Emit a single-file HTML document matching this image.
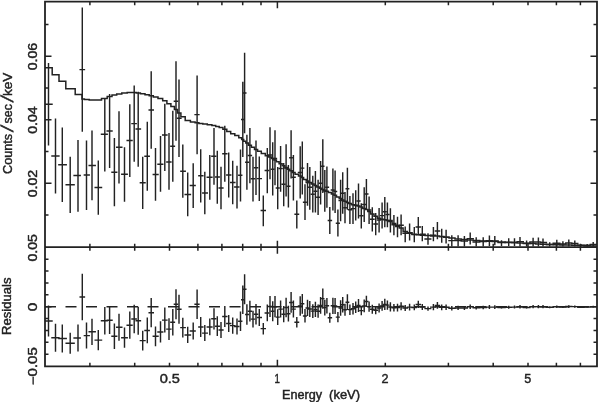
<!DOCTYPE html>
<html><head><meta charset="utf-8"><title>Spectrum</title>
<style>html,body{margin:0;padding:0;background:#fff;}body{width:600px;height:402px;overflow:hidden;}svg{display:block;}</style>
</head><body><svg width="600" height="402" viewBox="0 0 600 402"><defs><clipPath id="cu"><rect x="45.0" y="1.7" width="552.0" height="245.5"/></clipPath><clipPath id="cl"><rect x="45.0" y="247.2" width="552.0" height="119.1"/></clipPath></defs><g clip-path="url(#cu)"><path d="M45.0 67.8H52.2V74.8H59.0V81.2H65.8V88.8H75.2V94.5H82.0V99.0H84.4V99.4H89.2V100.1H95.2V99.9H101.5V98.4H107.2V96.5H112.0V95.0H116.7V94.0H121.8V93.1H127.2V92.6H132.0V92.5H136.2V92.9H140.4V93.7H145.0V94.7H149.2V95.7H153.3V96.9H158.0V98.5H162.7V100.8H166.9V103.8H170.9V106.6H174.4V109.4H177.5V112.9H180.9V116.8H185.2V120.6H190.4V122.1H195.1V122.8H198.9V123.4H202.8V124.0H207.3V124.7H211.9V125.6H215.7V126.4H219.2V127.5H222.9V129.2H226.8V131.6H230.7V133.7H234.8V135.6H238.8V137.7H241.7V139.6H243.7V141.3H245.8V143.1H248.4V145.2H251.4V147.3H254.5V149.5H257.6V151.3H261.3V153.5H265.3V155.7H268.6V157.1H271.4V158.6H273.9V160.1H276.4V161.8H279.1V163.8H282.1V165.8H284.9V167.5H287.2V169.2H289.8V170.8H292.2V172.5H295.1V174.3H298.5V175.9H301.2V177.4H303.6V179.4H306.2V181.0H308.6V182.6H311.3V184.1H314.1V185.6H316.8V187.0H319.4V188.3H321.7V189.4H323.8V190.3H325.9V191.3H328.4V192.6H331.4V194.0H334.0V195.2H336.5V197.0H339.2V198.6H341.6V200.0H343.9V201.3H346.2V202.5H348.6V203.6H351.4V204.7H354.4V205.5H357.1V206.1H359.9V207.0H362.8V208.4H365.3V209.6H367.8V211.6H370.7V214.0H374.0V216.3H377.4V218.3H380.6V219.3H383.5V219.7H386.1V220.4H388.9V221.6H392.1V223.5H395.7V225.6H399.3V228.1H403.1V231.6H407.4V233.2H412.0V234.2H416.3V234.8H420.3V235.2H425.1V235.6H430.7V235.9H435.4V236.1H439.5V236.5H443.9V237.2H449.0V238.0H455.0V238.9H461.2V239.4H467.3V240.0H473.2V240.5H479.7V241.0H486.3V241.3H492.1V241.6H498.1V242.1H505.1V242.5H511.6V242.8H517.2V243.0H523.3V243.3H529.9V243.6H535.8V243.9H540.7V244.2H546.4V244.5H553.2V244.7H559.8V244.9H565.8V245.1H571.8V245.3H577.8V245.6H584.0V245.9H590.2V246.1H596.2" fill="none" stroke="#222" stroke-width="1.50" stroke-linejoin="miter"/><path d="M48.5 63.0V145.5M55.5 118.5V193.5M62.3 127.5V202.0M70.2 156.8V213.0M78.0 140.0V211.7M82.3 7.5V131.8M86.5 140.5V210.0M92.0 130.5V200.3M98.3 160.5V214.7M104.8 98.5V171.5M109.6 94.0V168.0M114.4 138.0V206.2M119.0 111.3V183.5M124.5 147.2V201.7M129.8 104.3V177.0M134.2 85.5V161.7M138.2 91.8V166.7M142.7 156.7V209.0M147.3 121.8V190.8M151.2 71.2V148.7M155.5 148.0V200.8M160.5 136.0V191.8M164.8 103.8V170.9M169.0 133.0V189.8M172.8 110.8V181.7M176.0 61.3V140.8M179.0 79.5V157.0M182.8 144.6V197.7M187.7 172.5V216.3M193.2 163.3V208.0M197.1 75.6V154.2M200.7 149.2V202.5M204.8 171.7V214.2M209.8 155.0V199.7M214.0 128.0V184.7M217.3 150.7V203.7M221.0 166.7V209.2M224.8 125.8V181.7M228.7 152.5V197.5M232.7 160.8V204.2M237.0 165.8V208.5M240.5 149.5V201.4M242.8 81.7V157.1M244.6 52.8V133.3M246.9 134.7V189.7M249.9 128.1V183.3M253.0 156.8V201.4M256.0 140.4V195.0M259.3 156.4V201.1M263.3 195.5V226.3M267.3 148.0V193.3M270.0 127.2V179.2M272.7 142.3V195.5M275.0 130.2V185.3M277.7 167.1V209.2M280.6 146.0V191.8M283.7 163.1V206.2M286.1 144.3V196.4M288.4 165.1V207.5M291.1 130.2V178.6M293.4 155.0V200.4M296.8 200.4V228.6M300.2 146.3V198.4M302.3 141.6V194.4M305.0 184.3V220.0M307.5 163.0V205.8M309.8 167.1V209.8M312.8 175.8V212.5M315.4 171.1V212.5M318.1 179.8V215.1M320.6 161.0V204.6M322.8 139.3V193.1M324.8 170.0V211.8M326.9 166.4V207.8M329.8 207.1V233.9M332.9 168.4V210.4M335.1 170.4V213.1M337.9 209.4V236.6M340.6 179.8V221.2M342.7 172.2V213.8M345.0 191.9V223.2M347.4 167.8V209.8M349.9 195.9V224.1M353.0 193.3V223.9M355.7 190.2V220.5M358.5 183.5V218.5M361.3 203.3V228.6M364.2 187.2V221.9M366.4 178.9V209.1M369.1 196.6V223.9M372.3 207.2V231.4M375.7 213.0V235.3M379.1 208.1V232.4M382.1 202.4V228.6M384.8 197.0V227.2M387.4 202.4V227.2M390.4 208.2V232.6M393.9 215.1V235.3M397.5 216.7V237.3M401.1 214.5V235.3M405.2 226.5V242.2M409.6 223.5V240.4M414.3 227.0V242.2M418.3 217.1V235.3M422.3 226.1V241.3M428.0 233.3V244.7M433.4 227.0V241.3M437.4 222.1V239.3M441.7 228.8V242.7M446.1 229.8V243.5M451.8 235.2V246.6M458.1 235.2V246.6M464.4 236.1V246.6M470.2 232.5V244.6M476.2 237.2V246.6M483.2 237.2V246.6M489.4 235.6V245.9M494.8 236.1V245.3M501.5 240.2V246.0M508.7 238.3V246.0M514.5 238.3V246.0M520.0 237.0V246.5M526.6 240.5V246.5M533.1 237.7V246.5M538.4 237.4V246.5M543.0 238.4V246.5M549.7 242.2V246.5M556.8 239.8V246.5M562.9 241.2V246.5M568.8 239.4V246.5M574.8 240.5V246.5M580.9 244.0V246.5M587.2 244.0V246.5M593.2 242.0V246.5" fill="none" stroke="#222" stroke-width="1.45"/><path d="M45.0 104.2H52.0M52.0 156.0H58.9M58.9 164.8H66.2M66.2 184.8H74.1M74.1 175.5H80.2M80.2 69.6H84.4M84.4 175.0H89.2M89.2 165.5H95.2M95.2 187.5H101.5M101.5 134.2H107.2M107.2 131.0H112.0M112.0 172.2H116.7M116.7 147.2H121.8M121.8 174.2H127.2M127.2 140.5H132.0M132.0 123.6H136.2M136.2 128.9H140.4M140.4 182.8H145.0M145.0 156.3H149.2M149.2 110.0H153.3M153.3 174.4H158.0M158.0 164.2H162.7M162.7 135.0H166.9M166.9 162.0H170.9M170.9 146.3H174.4M174.4 101.2H177.5M177.5 118.2H180.9M180.9 171.2H185.2M185.2 194.4H190.4M190.4 185.5H195.1M195.1 114.6H198.9M198.9 175.8H202.8M202.8 193.0H207.3M207.3 177.2H211.9M211.9 156.3H215.7M215.7 177.0H219.2M219.2 188.0H222.9M222.9 153.7H226.8M226.8 175.0H230.7M230.7 182.5H234.8M234.8 187.0H238.8M238.8 175.2H241.7M241.7 119.5H243.7M243.7 93.0H245.8M245.8 162.2H248.4M248.4 155.5H251.4M251.4 178.8H254.5M254.5 167.8H257.6M257.6 178.6H261.3M261.3 210.5H265.3M265.3 170.5H268.6M268.6 155.0H271.4M271.4 169.2H273.9M273.9 158.4H276.4M276.4 188.0H279.1M279.1 168.5H282.1M282.1 184.2H284.9M284.9 168.1H287.2M287.2 186.3H289.8M289.8 157.8H292.2M292.2 177.2H295.1M295.1 214.3H298.5M298.5 172.5H301.2M301.2 168.1H303.6M303.6 202.3H306.2M306.2 182.5H308.6M308.6 187.2H311.3M311.3 194.2H314.1M314.1 191.2H316.8M316.8 197.3H319.4M319.4 183.2H321.7M321.7 166.2H323.8M323.8 191.0H325.9M325.9 187.3H328.4M328.4 220.5H331.4M331.4 190.0H334.0M334.0 191.5H336.5M336.5 223.2H339.2M339.2 200.5H341.6M341.6 193.2H343.9M343.9 207.8H346.2M346.2 188.8H348.6M348.6 209.8H351.4M351.4 208.6H354.4M354.4 205.3H357.1M357.1 201.0H359.9M359.9 215.8H362.8M362.8 204.5H365.3M365.3 194.0H367.8M367.8 210.0H370.7M370.7 219.2H374.0M374.0 223.9H377.4M377.4 220.0H380.6M380.6 215.6H383.5M383.5 211.8H386.1M386.1 214.5H388.9M388.9 220.5H392.1M392.1 224.8H395.7M395.7 226.5H399.3M399.3 225.2H403.1M403.1 233.3H407.4M407.4 232.6H412.0M412.0 234.6H416.3M416.3 227.0H420.3M420.3 234.2H425.1M425.1 239.0H430.7M430.7 235.3H435.4M435.4 231.0H439.5M439.5 236.6H443.9M443.9 237.3H449.0M449.0 240.6H455.0M455.0 240.6H461.2M461.2 241.0H467.3M467.3 238.6H473.2M473.2 241.9H479.7M479.7 241.5H486.3M486.3 240.6H492.1M492.1 241.0H498.1M498.1 242.6H505.1M505.1 242.3H511.6M511.6 242.3H517.2M517.2 241.6H523.3M523.3 243.5H529.9M529.9 242.0H535.8M535.8 242.0H540.7M540.7 242.5H546.4M546.4 244.5H553.2M553.2 243.3H559.8M559.8 244.0H565.8M565.8 243.0H571.8M571.8 243.5H577.8M577.8 245.3H584.0M584.0 245.3H590.2M590.2 244.5H596.2" fill="none" stroke="#222" stroke-width="1.45" stroke-linecap="square"/></g><g clip-path="url(#cl)"><line x1="45.0" y1="306.7" x2="597.0" y2="306.7" stroke="#222" stroke-width="1.50" stroke-dasharray="11 9.5"/><path d="M48.5 305.5V336.4M55.5 323.7V351.8M62.3 324.5V352.4M70.2 332.7V353.7M78.0 324.6V351.4M82.3 273.8V320.3M86.5 322.6V348.6M92.0 318.7V344.9M98.3 329.9V350.2M104.8 307.1V334.4M109.6 306.4V334.1M114.4 323.4V349.0M119.0 313.7V340.7M124.5 327.5V347.8M129.8 311.6V338.8M134.2 304.7V333.2M138.2 306.8V334.8M142.7 330.8V350.4M147.3 317.4V343.3M151.2 298.1V327.2M155.5 326.4V346.2M160.5 321.3V342.4M164.8 307.5V332.6M169.0 318.2V339.9M172.8 308.9V335.4M176.0 289.3V319.2M179.0 294.8V323.8M182.8 317.7V337.6M187.7 326.7V343.1M193.2 322.6V339.4M197.1 289.5V318.9M200.7 316.9V336.9M204.8 325.1V341.1M209.8 318.6V335.3M214.0 308.2V329.4M217.3 316.3V336.1M221.0 322.0V337.9M224.8 306.0V326.9M228.7 315.1V331.9M232.7 317.5V333.7M237.0 318.5V334.5M240.5 311.6V331.0M242.8 285.6V313.9M244.6 274.2V304.3M246.9 304.2V324.7M249.9 300.8V321.5M253.0 310.7V327.4M256.0 303.9V324.4M259.3 309.1V325.9M263.3 322.9V334.4M267.3 304.4V321.3M270.0 296.1V316.9M272.7 301.2V321.3M275.0 296.1V317.2M277.7 309.2V325.0M280.6 300.5V317.6M283.7 306.1V322.3M286.1 297.8V317.3M288.4 305.8V321.6M291.1 292.1V312.8M293.4 300.6V317.6M296.8 317.0V327.5M300.2 296.2V315.8M302.3 293.9V313.7M305.0 309.1V322.6M307.5 299.8V315.9M309.8 301.0V317.0M312.8 304.2V318.0M315.4 301.7V317.1M318.1 304.5V317.8M320.6 297.1V313.7M322.8 288.6V308.7M324.8 299.7V315.4M326.9 298.0V313.6M329.8 312.7V322.7M332.9 297.7V313.9M335.1 297.9V313.9M337.9 312.0V322.3M340.6 300.2V315.7M342.7 296.9V312.6M345.0 303.8V315.7M347.4 294.3V310.0M349.9 304.4V314.9M353.0 303.0V314.5M355.7 301.6V312.9M358.5 298.9V311.9M361.3 305.8V315.3M364.2 299.4V312.3M366.4 295.8V307.1M369.1 301.6V311.8M372.3 304.7V313.8M375.7 306.0V314.3M379.1 303.4V312.5M382.1 301.0V310.8M384.8 298.7V310.0M387.4 300.5V309.7M390.4 302.3V311.5M393.9 304.0V311.6M397.5 303.8V311.5M401.1 302.2V310.2M405.2 305.0V310.9M409.6 303.7V310.5M414.3 304.6V310.3M418.3 300.7V308.1M422.3 303.9V310.0M428.0 306.4V310.7M433.4 304.0V310.2M437.4 302.0V308.7M441.7 304.4V310.2M446.1 304.5V310.1M451.8 306.1V310.4M458.1 305.8V310.1M464.4 305.9V309.9M470.2 304.5V309.1M476.2 306.1V309.6M483.2 305.7V309.3M489.4 305.1V309.0M494.8 305.2V308.9M501.5 306.4V308.6M508.7 305.7V308.7M514.5 305.6V308.6M520.0 305.0V308.5M526.6 306.2V308.5M533.1 305.0V308.3M538.4 304.9V308.3M543.0 305.1V308.2M549.7 306.5V308.2M556.8 305.5V308.1M562.9 305.9V308.0M568.8 305.2V307.9M574.8 305.5V307.7M580.9 306.7V307.7M587.2 306.6V307.6M593.2 305.8V307.6" fill="none" stroke="#222" stroke-width="1.45"/><path d="M45.0 320.9H52.0M52.0 337.7H58.9M58.9 338.5H66.2M66.2 343.2H74.1M74.1 338.0H80.2M80.2 297.0H84.4M84.4 335.6H89.2M89.2 331.8H95.2M95.2 340.1H101.5M101.5 320.7H107.2M107.2 320.2H112.0M112.0 336.2H116.7M116.7 327.2H121.8M121.8 337.7H127.2M127.2 325.2H132.0M132.0 318.9H136.2M136.2 320.8H140.4M140.4 340.6H145.0M145.0 330.4H149.2M149.2 312.7H153.3M153.3 336.3H158.0M158.0 331.9H162.7M162.7 320.1H166.9M166.9 329.1H170.9M170.9 322.2H174.4M174.4 304.2H177.5M177.5 309.3H180.9M180.9 327.6H185.2M185.2 334.9H190.4M190.4 331.0H195.1M195.1 304.2H198.9M198.9 326.9H202.8M202.8 333.1H207.3M207.3 327.0H211.9M211.9 318.8H215.7M215.7 326.2H219.2M219.2 329.9H222.9M222.9 316.5H226.8M226.8 323.5H230.7M230.7 325.6H234.8M234.8 326.5H238.8M238.8 321.3H241.7M241.7 299.8H243.7M243.7 289.2H245.8M245.8 314.5H248.4M248.4 311.2H251.4M251.4 319.1H254.5M254.5 314.2H257.6M257.6 317.5H261.3M261.3 328.6H265.3M265.3 312.9H268.6M268.6 306.5H271.4M271.4 311.3H273.9M273.9 306.7H276.4M276.4 317.1H279.1M279.1 309.1H282.1M282.1 314.2H284.9M284.9 307.5H287.2M287.2 313.7H289.8M289.8 302.4H292.2M292.2 309.1H295.1M295.1 322.2H298.5M298.5 306.0H301.2M301.2 303.8H303.6M303.6 315.9H306.2M306.2 307.9H308.6M308.6 309.0H311.3M311.3 311.1H314.1M314.1 309.4H316.8M316.8 311.2H319.4M319.4 305.4H321.7M321.7 298.6H323.8M323.8 307.6H325.9M325.9 305.8H328.4M328.4 317.7H331.4M331.4 305.8H334.0M334.0 305.9H336.5M336.5 317.1H339.2M339.2 308.0H341.6M341.6 304.8H343.9M343.9 309.7H346.2M346.2 302.2H348.6M348.6 309.6H351.4M351.4 308.8H354.4M354.4 307.2H357.1M357.1 305.4H359.9M359.9 310.6H362.8M362.8 305.9H365.3M365.3 301.5H367.8M367.8 306.7H370.7M370.7 309.2H374.0M374.0 310.2H377.4M377.4 308.0H380.6M380.6 305.9H383.5M383.5 304.4H386.1M386.1 305.1H388.9M388.9 306.9H392.1M392.1 307.8H395.7M395.7 307.6H399.3M399.3 306.2H403.1M403.1 307.9H407.4M407.4 307.1H412.0M412.0 307.5H416.3M416.3 304.4H420.3M420.3 306.9H425.1M425.1 308.6H430.7M430.7 307.1H435.4M435.4 305.4H439.5M439.5 307.3H443.9M443.9 307.3H449.0M449.0 308.3H455.0M455.0 308.0H461.2M461.2 307.9H467.3M467.3 306.8H473.2M473.2 307.8H479.7M479.7 307.5H486.3M486.3 307.1H492.1M492.1 307.1H498.1M498.1 307.5H505.1M505.1 307.2H511.6M511.6 307.1H517.2M517.2 306.8H523.3M523.3 307.4H529.9M529.9 306.7H535.8M535.8 306.6H540.7M540.7 306.7H546.4M546.4 307.3H553.2M553.2 306.8H559.8M559.8 307.0H565.8M565.8 306.5H571.8M571.8 306.6H577.8M577.8 307.2H584.0M584.0 307.1H590.2M590.2 306.7H596.2" fill="none" stroke="#222" stroke-width="1.45" stroke-linecap="square"/></g><path d="M89.9 1.7v3.5M89.9 247.2v-3.5M89.9 247.2v3.5M89.9 366.3v-3.5M134.7 1.7v3.5M134.7 247.2v-3.5M134.7 247.2v3.5M134.7 366.3v-3.5M169.5 1.7v3.5M169.5 247.2v-3.5M169.5 247.2v3.5M169.5 366.3v-3.5M197.9 1.7v3.5M197.9 247.2v-3.5M197.9 247.2v3.5M197.9 366.3v-3.5M221.9 1.7v3.5M221.9 247.2v-3.5M221.9 247.2v3.5M221.9 366.3v-3.5M242.7 1.7v3.5M242.7 247.2v-3.5M242.7 247.2v3.5M242.7 366.3v-3.5M261.0 1.7v3.5M261.0 247.2v-3.5M261.0 247.2v3.5M261.0 366.3v-3.5M277.4 1.7v6.5M277.4 247.2v-6.5M277.4 247.2v6.5M277.4 366.3v-6.5M385.3 1.7v3.5M385.3 247.2v-3.5M385.3 247.2v3.5M385.3 366.3v-3.5M448.4 1.7v3.5M448.4 247.2v-3.5M448.4 247.2v3.5M448.4 366.3v-3.5M493.2 1.7v3.5M493.2 247.2v-3.5M493.2 247.2v3.5M493.2 366.3v-3.5M528.0 1.7v3.5M528.0 247.2v-3.5M528.0 247.2v3.5M528.0 366.3v-3.5M556.4 1.7v3.5M556.4 247.2v-3.5M556.4 247.2v3.5M556.4 366.3v-3.5M580.4 1.7v3.5M580.4 247.2v-3.5M580.4 247.2v3.5M580.4 366.3v-3.5M45.0 214.9h3.5M597.0 214.9h-3.5M45.0 183.2h6.5M597.0 183.2h-6.5M45.0 151.4h3.5M597.0 151.4h-3.5M45.0 119.7h6.5M597.0 119.7h-6.5M45.0 87.9h3.5M597.0 87.9h-3.5M45.0 56.2h6.5M597.0 56.2h-6.5M45.0 24.4h3.5M597.0 24.4h-3.5M45.0 354.2h3.5M597.0 354.2h-3.5M45.0 342.3h3.5M597.0 342.3h-3.5M45.0 330.5h3.5M597.0 330.5h-3.5M45.0 318.6h3.5M597.0 318.6h-3.5M45.0 306.7h6.5M597.0 306.7h-6.5M45.0 294.8h3.5M597.0 294.8h-3.5M45.0 282.9h3.5M597.0 282.9h-3.5M45.0 271.1h3.5M597.0 271.1h-3.5M45.0 259.2h3.5M597.0 259.2h-3.5" fill="none" stroke="#222" stroke-width="1.5"/><path d="M45.0 1.7H597.0V366.3H45.0Z M45.0 247.2H597.0" fill="none" stroke="#222" stroke-width="1.80"/><text transform="translate(36.9 56.6) rotate(-90)" font-family="Liberation Sans, Arial, sans-serif" fill="#222" stroke="#222" stroke-width="0.42" font-size="12.0" text-anchor="middle" textLength="27.5" lengthAdjust="spacingAndGlyphs">0.06</text><text transform="translate(36.9 120.1) rotate(-90)" font-family="Liberation Sans, Arial, sans-serif" fill="#222" stroke="#222" stroke-width="0.42" font-size="12.0" text-anchor="middle" textLength="27.5" lengthAdjust="spacingAndGlyphs">0.04</text><text transform="translate(36.9 183.6) rotate(-90)" font-family="Liberation Sans, Arial, sans-serif" fill="#222" stroke="#222" stroke-width="0.42" font-size="12.0" text-anchor="middle" textLength="27.5" lengthAdjust="spacingAndGlyphs">0.02</text><text transform="translate(36.9 247.8) rotate(-90)" font-family="Liberation Sans, Arial, sans-serif" fill="#222" stroke="#222" stroke-width="0.42" font-size="12.0" text-anchor="middle" textLength="27.5" lengthAdjust="spacingAndGlyphs">0.05</text><text transform="translate(36.9 307.0) rotate(-90)" font-family="Liberation Sans, Arial, sans-serif" fill="#222" stroke="#222" stroke-width="0.42" font-size="12.0" text-anchor="middle" textLength="8.5" lengthAdjust="spacingAndGlyphs">0</text><text transform="translate(36.9 366.2) rotate(-90)" font-family="Liberation Sans, Arial, sans-serif" fill="#222" stroke="#222" stroke-width="0.42" font-size="12.0" text-anchor="middle" textLength="38.0" lengthAdjust="spacingAndGlyphs">−0.05</text><text transform="translate(11.8 173.9) rotate(-90)" font-family="Liberation Sans, Arial, sans-serif" fill="#222" stroke="#222" stroke-width="0.42" font-size="12.0" textLength="40.0" lengthAdjust="spacingAndGlyphs">Counts</text><text transform="translate(13.1 132.3) rotate(-90) skewX(-13)" font-family="Liberation Sans, Arial, sans-serif" fill="#222" stroke="#222" stroke-width="0.6" font-size="17">/</text><text transform="translate(11.8 123.5) rotate(-90)" font-family="Liberation Sans, Arial, sans-serif" fill="#222" stroke="#222" stroke-width="0.42" font-size="12.0" textLength="19.4" lengthAdjust="spacingAndGlyphs">sec</text><text transform="translate(13.1 102.5) rotate(-90) skewX(-13)" font-family="Liberation Sans, Arial, sans-serif" fill="#222" stroke="#222" stroke-width="0.6" font-size="17">/</text><text transform="translate(11.8 96.0) rotate(-90)" font-family="Liberation Sans, Arial, sans-serif" fill="#222" stroke="#222" stroke-width="0.42" font-size="12.0" textLength="23.4" lengthAdjust="spacingAndGlyphs">keV</text><text transform="translate(11.4 306.3) rotate(-90)" font-family="Liberation Sans, Arial, sans-serif" fill="#222" stroke="#222" stroke-width="0.42" font-size="12.0" text-anchor="middle" textLength="57.5" lengthAdjust="spacingAndGlyphs">Residuals</text><text x="169.8" y="382.8" font-family="Liberation Sans, Arial, sans-serif" fill="#222" stroke="#222" stroke-width="0.42" font-size="12.6" text-anchor="middle" textLength="20.3" lengthAdjust="spacingAndGlyphs">0.5</text><text x="277.2" y="382.8" font-family="Liberation Sans, Arial, sans-serif" fill="#222" stroke="#222" stroke-width="0.42" font-size="12.6" text-anchor="middle" textLength="5.4" lengthAdjust="spacingAndGlyphs">1</text><text x="385.1" y="382.8" font-family="Liberation Sans, Arial, sans-serif" fill="#222" stroke="#222" stroke-width="0.42" font-size="12.6" text-anchor="middle" textLength="7.0" lengthAdjust="spacingAndGlyphs">2</text><text x="527.7" y="382.8" font-family="Liberation Sans, Arial, sans-serif" fill="#222" stroke="#222" stroke-width="0.42" font-size="12.6" text-anchor="middle" textLength="7.0" lengthAdjust="spacingAndGlyphs">5</text><text x="302.0" y="398.7" font-family="Liberation Sans, Arial, sans-serif" fill="#222" stroke="#222" stroke-width="0.42" font-size="12.0" text-anchor="middle" textLength="40.0" lengthAdjust="spacingAndGlyphs">Energy</text><text x="344.6" y="398.7" font-family="Liberation Sans, Arial, sans-serif" fill="#222" stroke="#222" stroke-width="0.42" font-size="12.0" text-anchor="middle" textLength="31.0" lengthAdjust="spacingAndGlyphs">(keV)</text></svg></body></html>
